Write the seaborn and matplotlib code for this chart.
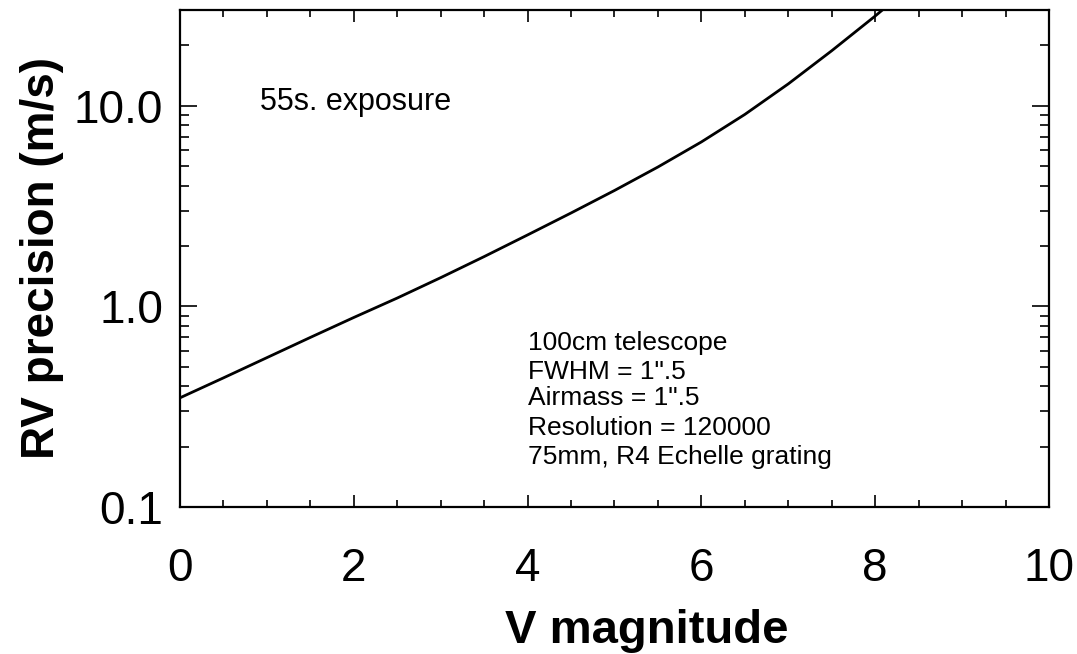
import numpy as np
import pandas as pd
import seaborn as sns
import matplotlib.pyplot as plt
from matplotlib.ticker import FixedLocator, FixedFormatter, MultipleLocator

# values
v_mag = [0.0, 0.5, 1.0, 1.5, 2.0, 2.5, 3.0, 3.5, 4.0, 4.5, 5.0, 5.5, 6.0, 6.5, 7.0, 7.5, 8.0, 8.25]
rv_prec = [0.35, 0.44, 0.555, 0.70, 0.88, 1.1, 1.39, 1.77, 2.27, 2.92, 3.78, 4.95, 6.6, 9.05, 12.85, 18.8, 28.0, 34.5]

y_major = [0.1, 1.0, 10.0]
y_major_labels = ["0.1", "1.0", "10.0"]
x_major = [0, 2, 4, 6, 8, 10]

notes = ["100cm telescope", "FWHM = 1\".5", "Airmass = 1\".5",
         "Resolution = 120000", "75mm, R4 Echelle grating"]
note_y = [0.330, 0.272, 0.219, 0.159, 0.101]

sns.set_style("ticks")
plt.rcParams['font.family'] = ['Liberation Sans', 'DejaVu Sans']
plt.rcParams.update({"text.color": "black", "axes.labelcolor": "black",
                     "xtick.color": "black", "ytick.color": "black"})

df = pd.DataFrame({"V": v_mag, "rv": rv_prec})

fig = plt.figure(figsize=(10.77, 6.54), dpi=100)
ax = fig.add_axes([0.1671, 0.2248, 0.8069, 0.7599])
sns.lineplot(data=df, x="V", y="rv", ax=ax, color="black", linewidth=2.0)

ax.set_yscale("log")
ax.set_xlim(0, 10)
ax.set_ylim(0.1, 30)

ax.yaxis.set_major_locator(FixedLocator(y_major))
ax.yaxis.set_major_formatter(FixedFormatter(y_major_labels))
minor = [m * d for d in (0.1, 1.0, 10.0) for m in range(2, 10)]
ax.yaxis.set_minor_locator(FixedLocator([t for t in minor if t <= 30]))
ax.yaxis.set_minor_formatter(FixedFormatter([]))
ax.xaxis.set_major_locator(FixedLocator(x_major))
ax.xaxis.set_minor_locator(MultipleLocator(0.5))

for s in ax.spines.values():
    s.set_linewidth(1.6)
    s.set_color("black")

ax.tick_params(axis="both", which="both", direction="in", top=True, right=True,
               colors="black", width=1.2)
ax.tick_params(axis="y", which="major", length=12, labelsize=33, pad=12)
ax.tick_params(axis="y", which="minor", length=6.5)
ax.tick_params(axis="x", which="major", length=8.5, labelsize=33, pad=29)
ax.tick_params(axis="x", which="minor", length=5)

ax.set_xlabel("V magnitude", fontsize=34, fontweight="bold")
ax.set_ylabel("RV precision (m/s)", fontsize=33, fontweight="bold")
ax.xaxis.set_label_coords(0.537, -0.205)
ax.yaxis.set_label_coords(-0.133, 0.50)

ax.text(0.092, 0.815, "55s. exposure", transform=ax.transAxes,
        fontsize=22, va="center", ha="left")
for line, yy in zip(notes, note_y):
    ax.text(0.400, yy, line, transform=ax.transAxes, fontsize=19,
            va="center", ha="left")

fig.savefig("out.png", dpi=100)
